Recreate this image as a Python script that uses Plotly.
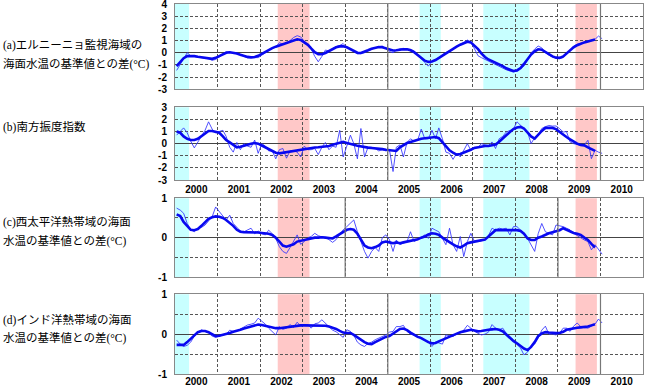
import pandas as pd
import plotly.graph_objects as go

# ---------------- data (monthly, Jan 2000 - Jan 2010) ----------------
months = pd.date_range("2000-01-01", periods=121, freq="MS") + pd.Timedelta(days=14)

nino3_monthly = [
    -1.45, -0.95, -0.4, 0.0, -0.25, -0.3, -0.33, -0.35, -0.4, -0.5, -0.62, -0.55,
    -0.35, -0.1, 0.08, 0.05, 0.0, -0.05, -0.15, -0.3, -0.42, -0.4, -0.38, -0.4,
    -0.2, 0.0, 0.2, 0.35, 0.47, 0.82, 0.7, 0.8, 1.0, 1.25, 1.4, 1.3,
    0.95, 0.6, 0.3, -0.3, -0.74, -0.3, 0.22, 0.15, 0.35, 0.5, 0.6, 0.75,
    0.45, 0.25, 0.1, -0.1, -0.08, 0.0, 0.15, 0.3, 0.4, 0.5, 0.55, 0.35,
    0.1, 0.0, 0.2, 0.33, 0.36, 0.3, 0.28, 0.15, -0.27, -0.5, -0.8, -1.1,
    -0.7, -0.55, -0.4, -0.14, 0.0, 0.15, 0.33, 0.5, 0.7, 0.85, 1.04, 0.9,
    0.3, -0.25, -0.4, -0.55, -0.65, -0.8, -0.95, -1.1, -1.25, -1.4, -1.5, -1.59,
    -1.5, -1.3, -1.1, -0.6, 0.0, 0.3, 0.55, 0.4, 0.0, -0.2, -0.35, -0.41,
    -0.47, -0.4, -0.1, 0.3, 0.55, 0.7, 0.8, 0.88, 0.95, 1.04, 1.1, 1.37,
    1.15,
]
nino3_smooth = [
    -1.1, -0.75, -0.45, -0.28, -0.25, -0.28, -0.33, -0.38, -0.44, -0.5, -0.5, -0.42,
    -0.28, -0.12, 0.0, 0.04, 0.02, -0.06, -0.16, -0.26, -0.34, -0.38, -0.35, -0.25,
    -0.08, 0.1, 0.25, 0.38, 0.5, 0.6, 0.7, 0.8, 0.92, 1.03, 1.1, 1.05,
    0.88, 0.65, 0.35, 0.05, -0.12, -0.12, -0.02, 0.15, 0.32, 0.45, 0.52, 0.53,
    0.45, 0.3, 0.12, 0.0, -0.02, 0.07, 0.2, 0.32, 0.42, 0.47, 0.45, 0.35,
    0.22, 0.18, 0.2, 0.25, 0.28, 0.28, 0.2, 0.05, -0.2, -0.45, -0.65, -0.75,
    -0.72, -0.6, -0.42, -0.22, -0.03, 0.15, 0.32, 0.5, 0.66, 0.8, 0.9, 0.85,
    0.6, 0.3, -0.05, -0.35, -0.55, -0.68, -0.8, -0.95, -1.1, -1.28, -1.42, -1.5,
    -1.45, -1.25, -0.92, -0.52, -0.15, 0.12, 0.28, 0.25, 0.05, -0.15, -0.3, -0.4,
    -0.42, -0.3, -0.05, 0.22, 0.45, 0.62, 0.75, 0.85, 0.92, 1.0, 1.08,
]

soi_monthly = [
    0.7, 1.0, 1.3, 0.9, 0.2, -0.35, 0.1, 0.6, 1.1, 1.8, 1.2, 0.9,
    1.0, 1.1, 0.6, -0.3, -0.7, 0.1, -0.5, 0.0, -0.2, -0.3, 0.3, -0.8,
    0.0, -0.2, -0.6, -0.6, -1.25, -0.5, -0.4, -1.2, -0.6, -0.6, -0.7, -1.1,
    -0.2, -0.5, -0.5, -0.4, -0.9, -0.3, 0.1, -0.5, -0.2, -0.3, 1.1, -1.1,
    -0.2, 0.7, 0.0, -1.25, 1.25, -1.1, -0.3, -0.3, -0.4, -0.6, -0.5, -0.6,
    -0.5, -2.3, -0.3, -0.1, -1.1, 0.1, 0.4, 0.2, 0.3, 1.2, 0.4, 0.4,
    1.1, 0.4, 1.3, 0.4, -0.7, -0.8, -1.3, -0.8, -1.1, -0.5, 0.0, -0.55,
    -0.3, -0.3, 0.0, -0.1, -0.15, 0.14, -0.4, 0.4, 0.6, 0.96, 1.1, 1.2,
    1.8, 1.5, 1.3, 0.96, 0.0, 0.5, 0.7, 1.25, 1.4, 1.5, 1.45, 1.46,
    1.24, 0.96, 1.0, 0.14, 0.0, -0.1, -0.14, -0.1, 0.28, -1.24, -0.55, -0.7,
    -0.8,
]
soi_smooth = [
    1.0, 0.9, 0.6, 0.4, 0.3, 0.3, 0.4, 0.6, 0.85, 1.05, 1.05, 1.0,
    0.9, 0.6, 0.3, 0.1, -0.1, -0.3, -0.25, -0.15, -0.05, 0.0, 0.05, 0.0,
    -0.15, -0.3, -0.45, -0.6, -0.75, -0.8, -0.75, -0.7, -0.65, -0.6, -0.55, -0.5,
    -0.42, -0.38, -0.35, -0.32, -0.3, -0.28, -0.25, -0.2, -0.1, 0.0, 0.1, 0.15,
    0.05, -0.05, -0.1, -0.18, -0.25, -0.3, -0.33, -0.36, -0.38, -0.4, -0.45, -0.5,
    -0.55, -0.6, -0.6, -0.3, -0.1, 0.05, 0.14, 0.25, 0.35, 0.41, 0.45, 0.47,
    0.5, 0.55, 0.45, 0.14, -0.2, -0.55, -0.75, -0.9, -0.85, -0.75, -0.63, -0.5,
    -0.35, -0.28, -0.25, -0.2, -0.19, -0.15, -0.08, 0.15, 0.45, 0.69, 0.95, 1.2,
    1.33, 1.38, 1.25, 0.96, 0.6, 0.41, 0.74, 1.05, 1.3, 1.32, 1.3, 1.2,
    0.96, 0.75, 0.55, 0.35, 0.14, 0.0, -0.1, -0.14, -0.3, -0.47, -0.6,
]

wpac_monthly = [
    0.75, 0.7, 0.62, 0.36, 0.2, 0.15, 0.24, 0.26, 0.32, 0.42, 0.53, 0.78,
    0.65, 0.55, 0.45, 0.57, 0.36, 0.25, 0.17, 0.15, 0.2, 0.24, 0.1, 0.17,
    0.1, 0.07, 0.19, 0.1, -0.02, -0.23, -0.35, -0.4, -0.25, -0.1, 0.07, -0.17,
    -0.1, 0.0, 0.03, 0.11, 0.05, 0.02, 0.0, -0.05, -0.12, -0.05, 0.08, 0.2,
    0.28, 0.38, 0.45, 0.15, -0.1, -0.35, -0.52, -0.35, -0.25, -0.35, 0.0, 0.07,
    -0.05, -0.35, -0.06, -0.18, -0.14, -0.1, 0.15, -0.1, -0.05, 0.02, 0.07, -0.02,
    0.24, 0.19, 0.15, -0.02, -0.18, 0.24, -0.18, -0.35, 0.03, -0.48, -0.1, 0.11,
    -0.1, -0.1, -0.08, -0.06, 0.05, 0.24, 0.19, 0.24, 0.22, 0.24, 0.07, 0.28,
    0.28, 0.2, 0.11, -0.02, -0.2, -0.35, 0.1, 0.36, 0.15, 0.1, 0.07, 0.32,
    0.3, 0.28, 0.24, 0.2, 0.11, 0.05, -0.02, -0.06, -0.1, -0.31, -0.18, -0.3,
    -0.42,
]
wpac_smooth = [
    0.59, 0.55, 0.4, 0.3, 0.2, 0.19, 0.22, 0.3, 0.4, 0.48, 0.52, 0.54,
    0.53, 0.5, 0.45, 0.38, 0.3, 0.2, 0.15, 0.14, 0.14, 0.13, 0.13, 0.13,
    0.12, 0.11, 0.1, 0.07, 0.0, -0.1, -0.2, -0.23, -0.2, -0.17, -0.1, -0.08,
    -0.07, -0.05, -0.02, 0.0, 0.0, 0.01, 0.0, -0.01, -0.02, 0.03, 0.08, 0.15,
    0.2, 0.22, 0.2, 0.1, -0.05, -0.2, -0.25, -0.27, -0.24, -0.2, -0.12, -0.1,
    -0.12, -0.14, -0.12, -0.14, -0.12, -0.1, -0.08, -0.06, -0.04, 0.0, 0.03, 0.08,
    0.11, 0.1, 0.07, 0.0, -0.06, -0.12, -0.17, -0.22, -0.25, -0.2, -0.14, -0.12,
    -0.1, -0.09, -0.07, -0.05, 0.03, 0.12, 0.19, 0.19, 0.19, 0.19, 0.19, 0.19,
    0.19, 0.17, 0.1, -0.02, -0.06, -0.06, 0.0, 0.03, 0.08, 0.11, 0.14, 0.16,
    0.19, 0.24, 0.2, 0.15, 0.12, 0.1, 0.07, 0.0, -0.06, -0.16, -0.25,
]

indian_monthly = [
    -0.15, -0.25, -0.31, -0.28, -0.2, -0.05, 0.05, 0.11, 0.07, 0.03, -0.05, -0.08,
    -0.05, -0.03, 0.0, 0.1, 0.07, 0.08, 0.13, 0.17, 0.23, 0.25, 0.28, 0.4,
    0.32, 0.25, 0.15, 0.05, -0.02, 0.19, 0.12, 0.15, 0.24, 0.17, 0.3, 0.2,
    0.23, 0.24, 0.15, 0.26, 0.28, 0.36, 0.28, 0.2, 0.1, 0.06, 0.0, -0.08,
    0.11, 0.07, -0.03, -0.2, -0.27, -0.31, -0.23, -0.2, -0.14, -0.1, -0.05, -0.02,
    0.05, 0.07, 0.19, 0.19, 0.22, 0.07, 0.0, -0.02, -0.06, -0.08, -0.15, -0.2,
    -0.31, -0.2, -0.22, -0.25, -0.02, -0.05, -0.06, 0.0, 0.02, 0.1, 0.22, 0.15,
    0.07, 0.02, -0.02, 0.0, 0.05, 0.24, 0.15, 0.11, 0.15, 0.02, -0.05, -0.14,
    -0.26, -0.35, -0.52, -0.45, -0.31, -0.25, -0.1, 0.1, 0.2, 0.0, 0.0, -0.02,
    0.03, 0.15, 0.15, 0.07, 0.2, 0.28, 0.19, 0.16, 0.15, 0.2, 0.25, 0.38,
    0.28,
]
indian_smooth = [
    -0.27, -0.27, -0.27, -0.2, -0.12, -0.03, 0.05, 0.08, 0.08, 0.05, 0.0, -0.05,
    -0.04, -0.02, 0.0, 0.03, 0.06, 0.08, 0.11, 0.14, 0.17, 0.2, 0.23, 0.24,
    0.23, 0.21, 0.19, 0.17, 0.15, 0.15, 0.16, 0.18, 0.19, 0.2, 0.22, 0.22,
    0.22, 0.22, 0.22, 0.22, 0.22, 0.22, 0.21, 0.19, 0.16, 0.13, 0.08, 0.04,
    0.03, 0.03, -0.02, -0.08, -0.15, -0.2, -0.24, -0.25, -0.2, -0.15, -0.1, -0.07,
    -0.05, 0.02, 0.08, 0.13, 0.14, 0.1, 0.04, -0.02, -0.07, -0.1, -0.16, -0.2,
    -0.23, -0.22, -0.18, -0.14, -0.1, -0.06, -0.02, 0.02, 0.05, 0.07, 0.09, 0.11,
    0.09, 0.07, 0.08, 0.1, 0.11, 0.12, 0.13, 0.11, 0.07, -0.01, -0.1, -0.17,
    -0.23, -0.3, -0.36, -0.4, -0.32, -0.2, -0.05, 0.02, 0.05, 0.04, 0.03, 0.03,
    0.03, 0.06, 0.11, 0.13, 0.15, 0.16, 0.17, 0.18, 0.19, 0.22, 0.25,
]

la_nina_periods = [("2000-01-01", "2000-05-01"), ("2005-10-01", "2006-04-01"),
                   ("2007-04-01", "2008-05-01")]
el_nino_periods = [("2002-06-01", "2003-03-01"), ("2009-06-01", "2009-12-01")]

panel_labels = [
    ["(a)エルニーニョ監視海域の", "海面水温の基準値との差(°C)"],
    ["(b)南方振度指数"],
    ["(c)西太平洋熱帯域の海面", "水温の基準値との差(°C)"],
    ["(d)インド洋熱帯域の海面", "水温の基準値との差(°C)"],
]
y_ranges = [(-3, 4), (-3, 3), (-1, 1), (-1, 1)]
y_tickvals = [list(range(-3, 5)), list(range(-3, 4)), [-1, -0.5, 0, 0.5, 1], [-1, -0.5, 0, 0.5, 1]]
y_ticktext = [[str(v) for v in range(-3, 5)], [str(v) for v in range(-3, 4)],
              ["-1", "", "0", "", "1"], ["-1", "", "0", "", "1"]]
solid_years = [["2005-01-01", "2010-01-01"], ["2005-01-01", "2010-01-01"],
               ["2004-01-01", "2009-01-01"], ["2005-01-01", "2010-01-01"]]

monthly_series = [nino3_monthly, soi_monthly, wpac_monthly, indian_monthly]
smooth_series = [nino3_smooth, soi_smooth, wpac_smooth, indian_smooth]

# ---------------- layout geometry (pixels) ----------------
W, H = 645, 386
ML, MR, MT, MB = 175, 2, 4, 12
PW, PH = W - ML - MR, H - MT - MB
panel_px = [(4, 89.3), (107.3, 180), (198.3, 277), (294.3, 374)]
label_px = [[45, 63.5], [127], [222, 241], [320, 338]]
x_label_standoff = [0, 0, 0, -2]


def py(v):
    return min(1.0, max(0.0, (H - MB - v) / PH))


fig = go.Figure()
bold = dict(family="Liberation Sans, Arial, sans-serif", size=10, color="black", weight="bold")

for i in range(4):
    n = "" if i == 0 else str(i + 1)
    xa, ya = "x" + n, "y" + n
    fig.add_trace(go.Scatter(x=months[:len(monthly_series[i])], y=monthly_series[i], mode="lines",
                             line=dict(color="rgba(50,50,255,0.85)", width=1),
                             xaxis=xa, yaxis=ya, showlegend=False, hoverinfo="skip"))
    fig.add_trace(go.Scatter(x=months[:len(smooth_series[i])], y=smooth_series[i], mode="lines",
                             line=dict(color="#0808f0", width=2.6),
                             xaxis=xa, yaxis=ya, showlegend=False, hoverinfo="skip"))
    top, bot = panel_px[i]
    fig.layout["xaxis" + n] = dict(
        domain=[0, 1], anchor=ya, type="date", range=["2000-01-01", "2011-01-01"],
        tick0="2000-01-01", dtick="M12", ticklabelmode="period", tickformat="%Y",
        showticklabels=(i in (1, 3)), ticks="", tickfont=bold, ticklabeloverflow="allow",
        ticklabelstandoff=x_label_standoff[i],
        showgrid=True, gridcolor="#555", griddash="3px,2px", gridwidth=1,
        showline=True, linecolor="#888", linewidth=1, mirror=True, automargin=False,
        zeroline=False)
    fig.layout["yaxis" + n] = dict(
        domain=[py(bot), py(top)], anchor=xa, range=list(y_ranges[i]),
        tickmode="array", tickvals=y_tickvals[i], ticktext=y_ticktext[i], tickfont=bold,
        ticks="outside", ticklen=5, tickcolor="rgba(0,0,0,0)", ticklabeloverflow="allow",
        showgrid=True, gridcolor="#555", griddash="3px,2px", gridwidth=1,
        zeroline=True, zerolinecolor="#444", zerolinewidth=1,
        showline=True, linecolor="#888", linewidth=1, mirror=True, automargin=False)
    for x0, x1 in la_nina_periods:
        fig.add_shape(type="rect", xref=xa, yref=ya + " domain", x0=x0, x1=x1, y0=0, y1=1,
                      fillcolor="#c8ffff", line_width=0, layer="below")
    for x0, x1 in el_nino_periods:
        fig.add_shape(type="rect", xref=xa, yref=ya + " domain", x0=x0, x1=x1, y0=0, y1=1,
                      fillcolor="#ffc8c8", line_width=0, layer="below")
    for xs in solid_years[i]:
        fig.add_shape(type="line", xref=xa, yref=ya + " domain", x0=xs, x1=xs, y0=0, y1=1,
                      line=dict(color="#777", width=1.2), layer="above")
    for txt, yy in zip(panel_labels[i], label_px[i]):
        fig.add_annotation(text=txt, xref="paper", yref="paper", x=-(ML - 0.5) / PW, y=py(yy),
                           xanchor="left", yanchor="middle", showarrow=False,
                           font=dict(family="Liberation Serif, Noto Sans CJK JP", size=11.5,
                                     color="black"))

fig.update_layout(width=W, height=H, margin=dict(l=ML, r=MR, t=MT, b=MB),
                  paper_bgcolor="white", plot_bgcolor="white", showlegend=False)

fig.write_html("out.html", config={"displayModeBar": False},
               post_script="document.body.style.margin='0';document.body.style.overflow='hidden';")
